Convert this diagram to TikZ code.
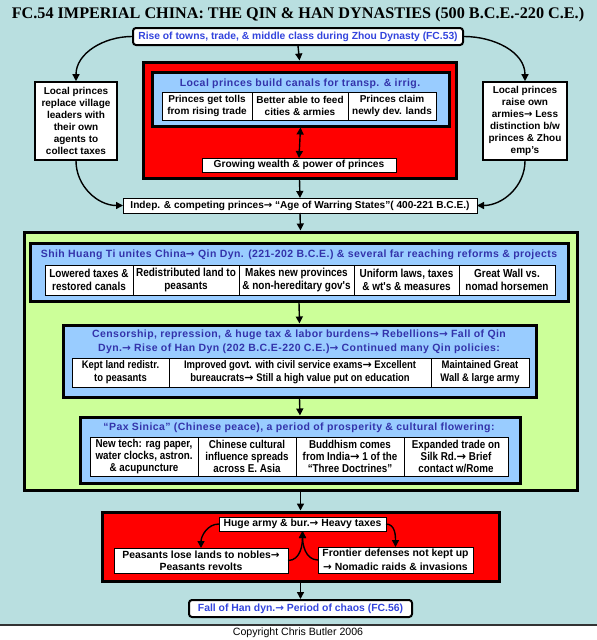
\documentclass[tikz,border=0pt]{standalone}
\usepackage{fontspec}
\setmainfont{Liberation Sans}
\newfontfamily\titlefont{Liberation Serif}
\newfontfamily\narrowfont[FakeStretch=0.86]{Liberation Sans}
\newfontfamily\hdfont[LetterSpace=4]{Liberation Sans}
\newfontfamily\arrowfont{DejaVu Sans}
\newcommand{\rarr}{{\arrowfont →}}
\usetikzlibrary{arrows.meta,positioning}
\definecolor{bgteal}{RGB}{185,223,224}
\definecolor{paleblue}{RGB}{153,204,255}
\definecolor{palegreen}{RGB}{204,255,153}
\definecolor{hdblue}{RGB}{51,51,170}
\definecolor{linkblue}{RGB}{51,68,221}

\begin{document}
\begin{tikzpicture}[x=1pt,y=-1pt,
  every node/.style={font=\bfseries\fontsize{10.4}{12}\selectfont},
  arr/.style={line width=1.4pt,-{Triangle[length=7pt,width=7pt]}},
  frame/.style={draw,line width=3pt,inner sep=0pt},
  cell/.style={draw,fill=white,line width=0.8pt,align=center,inner sep=0pt,outer sep=0pt},
  bx/.style={draw,fill=white,line width=1.6pt,align=center,inner sep=0pt},
  hd/.style={text=hdblue,align=center,font=\hdfont\bfseries\fontsize{10.5}{14}\selectfont},
  nar/.style={font=\narrowfont\bfseries\fontsize{11.6}{13.5}\selectfont}]
\useasboundingbox (0,0) rectangle (597,640);
\fill[bgteal] (0,0) rectangle (597,625);
\draw[line width=1.5pt,black!80] (0,625) -- (597,625);
\node[font=\fontsize{10.6}{11}\selectfont] (copy) at (298,633) {Copyright Chris Butler 2006};
\node[font=\titlefont\bfseries\fontsize{16.2}{18}\selectfont] (title) at (298,15)
  {FC.54 IMPERIAL CHINA: THE QIN \& HAN DYNASTIES (500 B.C.E.-220 C.E.)};

% Top: Zhou background
\node[bx,rounded corners=3pt,line width=2pt,minimum width=330pt,minimum height=17pt,text=linkblue,
  font=\bfseries\fontsize{10.3}{11}\selectfont] (top) at (298,36.5)
  {Rise of towns, trade, \& middle class during Zhou Dynasty (FC.53)};
\node[bx,minimum width=82pt,minimum height=78pt,font=\bfseries\fontsize{10}{12}\selectfont] (left) at (76,121)
  {Local princes\\replace village\\leaders with\\their own\\agents to\\collect taxes};
\node[bx,minimum width=84pt,minimum height=78pt,font=\bfseries\fontsize{10}{12}\selectfont] (right) at (525,121)
  {Local princes\\raise own\\armies\rarr{} Less\\distinction b/w\\princes \& Zhou\\emp's};

\node[frame,fill=red,minimum width=313pt,minimum height=116pt] (redA) at (299.5,120) {};
\node[frame,fill=paleblue,minimum width=297pt,minimum height=54pt] (blueA) at (300.5,99) {};
\node[hd] (hdA) at (300,84)
  {Local princes build canals for transp. \& irrig.};
\node[cell,minimum width=90pt,minimum height=28pt,font=\bfseries\fontsize{10}{11.5}\selectfont] (a1) at (207,106)
  {Princes get tolls\\from rising trade};
\node[cell,minimum width=96pt,minimum height=28pt,font=\bfseries\fontsize{10}{11.5}\selectfont,right=0pt of a1] (a2)
  {Better able to feed\\cities \& armies};
\node[cell,minimum width=88pt,minimum height=28pt,font=\bfseries\fontsize{10}{11.5}\selectfont,right=0pt of a2] (a3)
  {Princes claim\\newly dev. lands};
\node[cell,minimum width=194pt,minimum height=14pt,font=\bfseries\fontsize{10.2}{11.5}\selectfont] (grow) at (299,165)
  {Growing wealth \&  power of princes};
\draw[line width=1.4pt,{Triangle[length=7pt,width=7pt]}-{Triangle[length=7pt,width=7pt]}] (blueA.south) -- (grow.north);

\node[cell,line width=1pt,minimum width=354pt,minimum height=15pt,font=\bfseries\fontsize{10.1}{11}\selectfont] (indep) at (300,205.5)
  {Indep. \& competing princes\rarr{} “Age of Warring States”( 400-221 B.C.E.)};
\draw[arr] (top.south) -- (redA.north);
\draw[arr] (redA.south) -- (indep.north);
\draw[arr] (top.west) to[out=180,in=90] (left.north);
\draw[arr] (top.east) to[out=0,in=90] (right.north);
\draw[arr] (left.south) to[out=-90,in=180] (indep.west);
\draw[arr] (right.south) to[out=-90,in=0] (indep.east);

% Middle: Qin and Han
\node[frame,fill=palegreen,minimum width=553pt,minimum height=258pt] (green) at (300.5,361) {};
\draw[arr] (indep.south) -- (green.north);

\node[frame,fill=paleblue,minimum width=538pt,minimum height=58pt] (blueB) at (299,272) {};
\node[hd] (hdB) at (299,255)
  {Shih Huang Ti unites China\rarr{} Qin Dyn. (221-202 B.C.E.) \& several far reaching reforms \& projects};
\node[cell,nar,minimum width=88pt,minimum height=30pt] (b1) at (89,280) {Lowered taxes \&\\restored canals};
\node[cell,nar,minimum width=106pt,minimum height=30pt,right=0pt of b1] (b2) {Redistributed land to\\peasants};
\node[cell,nar,minimum width=115pt,minimum height=30pt,right=0pt of b2] (b3) {Makes new provinces\\\& non-hereditary gov's};
\node[cell,nar,minimum width=105pt,minimum height=30pt,right=0pt of b3] (b4) {Uniform laws, taxes\\\& wt's \& measures};
\node[cell,nar,minimum width=96pt,minimum height=30pt,right=0pt of b4] (b5) {Great Wall vs.\\nomad horsemen};

\node[frame,fill=paleblue,minimum width=473pt,minimum height=72pt] (blueC) at (299.5,361) {};
\draw[arr] (blueB.south) -- (blueC.north);
\node[hd] (hdC) at (299,342)
  {Censorship, repression, \& huge tax \& labor burdens\rarr{} Rebellions\rarr{} Fall of Qin\\
   Dyn.\rarr{} Rise of Han Dyn (202 B.C.E-220 C.E.)\rarr{} Continued many Qin policies:};
\node[cell,nar,minimum width=97pt,minimum height=29pt,font=\narrowfont\bfseries\fontsize{11}{13}\selectfont] (c1) at (120.5,372.5)
  {Kept land redistr.\\to peasants};
\node[cell,nar,minimum width=262pt,minimum height=29pt,font=\narrowfont\bfseries\fontsize{11}{13}\selectfont,right=0pt of c1] (c2)
  {Improved govt. with civil service exams\rarr{} Excellent\\bureaucrats\rarr{} Still a high value put on education};
\node[cell,nar,minimum width=98pt,minimum height=29pt,font=\narrowfont\bfseries\fontsize{11}{13}\selectfont,right=0pt of c2] (c3)
  {Maintained Great\\Wall \& large army};

\node[frame,fill=paleblue,minimum width=440pt,minimum height=66pt] (blueD) at (300,450) {};
\draw[arr] (blueC.south) -- (blueD.north);
\node[hd] (hdD) at (299,428)
  {“Pax Sinica” (Chinese peace), a period of prosperity \& cultural flowering:};
\node[cell,nar,minimum width=108pt,minimum height=39pt,font=\narrowfont\bfseries\fontsize{11.4}{12.2}\selectfont] (d1) at (144,456.5)
  {New tech: rag paper,\\water clocks, astron.\\\& acupuncture};
\node[cell,nar,minimum width=98pt,minimum height=39pt,font=\narrowfont\bfseries\fontsize{11.4}{12.2}\selectfont,right=0pt of d1] (d2)
  {Chinese cultural\\influence spreads\\across E. Asia};
\node[cell,nar,minimum width=108pt,minimum height=39pt,font=\narrowfont\bfseries\fontsize{11.4}{12.2}\selectfont,right=0pt of d2] (d3)
  {Buddhism comes\\from  India\rarr{} 1 of the\\“Three Doctrines”};
\node[cell,nar,minimum width=104pt,minimum height=39pt,font=\narrowfont\bfseries\fontsize{11.4}{12.2}\selectfont,right=0pt of d3] (d4)
  {Expanded  trade on\\Silk Rd.\rarr{} Brief\\contact w/Rome};

% Bottom: fall of Han
\node[frame,fill=red,minimum width=397pt,minimum height=69pt] (redB) at (300.5,546.5) {};
\draw[arr] (green.south) -- (redB.north);
\node[cell,minimum width=167pt,minimum height=14pt] (huge) at (302.5,524)
  {Huge army \& bur.\rarr{} Heavy taxes};
\node[cell,minimum width=174pt,minimum height=25pt] (peas) at (201,560.5)
  {Peasants  lose lands to nobles\rarr\\Peasants revolts};
\node[cell,minimum width=155pt,minimum height=26pt,font=\bfseries\fontsize{10.4}{13.5}\selectfont] (front) at (395.5,560)
  {Frontier defenses not kept up\\\rarr{} Nomadic raids \& invasions};
\draw[arr] (huge.west) to[out=180,in=90] (peas.north);
\draw[arr] (huge.east) to[out=0,in=90] (front.north);
\draw[arr] (peas.east) to[out=0,in=-90] (huge.south);
\draw[arr] (front.west) to[out=180,in=-90] (huge.south);

\node[bx,rounded corners=3pt,line width=2pt,minimum width=223pt,minimum height=17pt,text=linkblue,
  font=\bfseries\fontsize{10.4}{11}\selectfont] (fall) at (300.5,608.5)
  {Fall  of Han dyn.\rarr{} Period of chaos (FC.56)};
\draw[arr] (redB.south) -- (fall.north);
\end{tikzpicture}
\end{document}
